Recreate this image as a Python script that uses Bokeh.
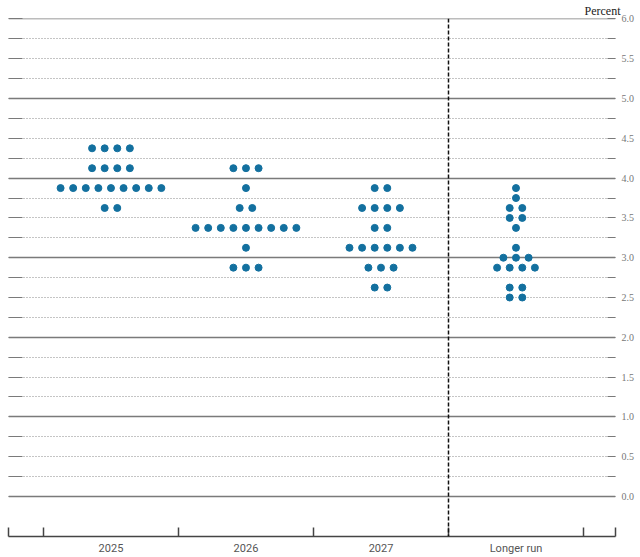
from bokeh.plotting import figure
from bokeh.models import (FixedTicker, Grid, LinearAxis, Span, Title, PrintfTickFormatter,
                          Range1d, CustomJSTickFormatter)
from bokeh.embed import file_html
from bokeh.resources import INLINE

# ---- data ----
categories = ["2025", "2026", "2027", "Longer run"]
dot_cat = [0, 0, 0, 0,
           1, 1, 1, 1, 1, 1,
           2, 2, 2, 2, 2, 2,
           3, 3, 3, 3, 3, 3, 3, 3, 3, 3]
dot_rate = [4.375, 4.125, 3.875, 3.625,
            4.125, 3.875, 3.625, 3.375, 3.125, 2.875,
            3.875, 3.625, 3.375, 3.125, 2.875, 2.625,
            3.875, 3.75, 3.625, 3.5, 3.375, 3.125, 3.0, 2.875, 2.625, 2.5]
dot_count = [4, 4, 9, 2,
             3, 1, 2, 9, 1, 3,
             2, 4, 2, 6, 3, 2,
             1, 1, 2, 2, 1, 1, 3, 4, 2, 2]
y_ticks_labeled = [i * 0.5 for i in range(13)]
y_ticks_quarter = [i * 0.25 for i in range(25)]

# ---- layout ----
X0, X1 = 0.241, 4.737
Y0, Y1 = -0.503, 6.006
spacing = 0.0933

xs, ys = [], []
for c, r, n in zip(dot_cat, dot_rate, dot_count):
    for i in range(n):
        xs.append(c + 1 + (i - (n - 1) / 2) * spacing)
        ys.append(r)

p = figure(frame_width=607, frame_height=518,
           x_range=Range1d(X0, X1), y_range=Range1d(Y0, Y1),
           output_backend="svg", toolbar_location=None,
           min_border_left=8, min_border_right=0, min_border_top=0, min_border_bottom=0)
p.outline_line_color = None
p.background_fill_color = "white"
p.border_fill_color = "white"

t = Title(text="Percent", align="right", offset=-5, text_font="Liberation Serif",
          text_font_size="12px", text_color="#222222", text_font_style="normal",
          standoff=2)
p.add_layout(t, "above")

# grid
p.xgrid.visible = False
p.ygrid.ticker = FixedTicker(ticks=[v for v in y_ticks_quarter if v % 1 != 0])
p.ygrid.grid_line_color = "#8a8a8a"
p.ygrid.grid_line_dash = "1 2"
p.ygrid.grid_line_width = 1
solid = Grid(dimension=1, ticker=FixedTicker(ticks=[v for v in y_ticks_quarter if v % 1 == 0]),
             grid_line_color="#7a7a7a", grid_line_width=1.3)
p.add_layout(solid)

# left tick ends
ly = p.yaxis[0]
ly.ticker = FixedTicker(ticks=y_ticks_quarter)
ly.formatter = CustomJSTickFormatter(code="return ''")
ly.major_tick_in = 14
ly.major_tick_out = 0
ly.major_tick_line_color = "#7a7a7a"
ly.minor_tick_line_color = None
ly.axis_line_color = None
ly.major_label_standoff = 0

# right axis
ry = LinearAxis(ticker=FixedTicker(ticks=y_ticks_labeled,
                                   minor_ticks=[v for v in y_ticks_quarter if v not in y_ticks_labeled]),
                formatter=PrintfTickFormatter(format="%.1f"))
ry.major_tick_in = 8
ry.major_tick_out = 0
ry.minor_tick_in = 8
ry.minor_tick_out = 0
ry.major_tick_line_color = "#7a7a7a"
ry.minor_tick_line_color = "#7a7a7a"
ry.axis_line_color = None
ry.major_label_text_font = "Liberation Serif"
ry.major_label_text_font_size = "10px"
ry.major_label_text_color = "#777777"
ry.major_label_standoff = 6
p.add_layout(ry, "right")

# bottom axis
bx = p.xaxis[0]
bx.ticker = FixedTicker(ticks=[i + 1 for i in range(len(categories))],
                        minor_ticks=[X0 + 0.003] + [c + 0.5 for c in range(len(categories) + 1)] + [X1 - 0.003])
bx.major_label_overrides = {i + 1: c for i, c in enumerate(categories)}
bx.major_tick_in = 0
bx.major_tick_out = 0
bx.minor_tick_in = 9
bx.minor_tick_out = 0
bx.minor_tick_line_color = "#444444"
bx.minor_tick_line_width = 1.5
bx.axis_line_color = "#444444"
bx.axis_line_width = 1.5
bx.major_label_text_font = "Roboto"
bx.major_label_text_font_size = "11px"
bx.major_label_text_color = "#555555"
bx.major_label_standoff = 5

p.add_layout(Span(location=3.5, dimension="height", line_color="#111111",
                  line_dash="4 2", line_width=1.5))

p.scatter(xs, ys, size=7, color="#13709f")

open("out.html", "w").write(file_html(p, INLINE))
